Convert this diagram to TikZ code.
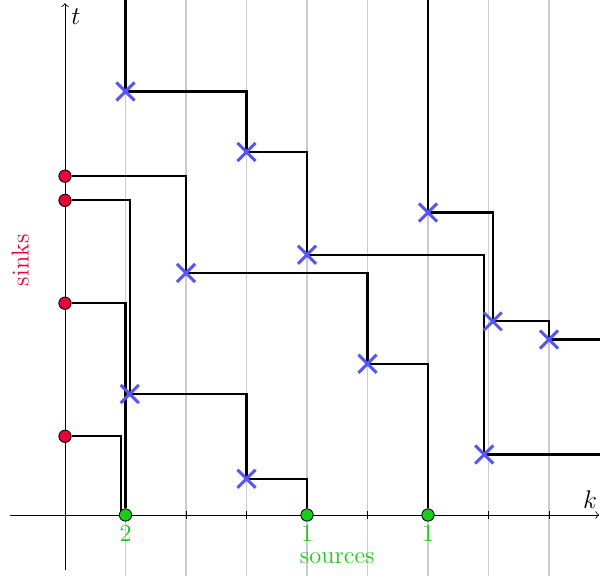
\documentclass[tikz,border=0pt]{standalone}
\usepackage{xcolor}
\usepackage{tikz}
\usetikzlibrary{shapes.misc}
\definecolor{sinkred}{RGB}{235,0,55}
\definecolor{srcgreen}{RGB}{25,205,25}
\definecolor{crossblue}{RGB}{85,85,250}

\begin{document}
\begin{tikzpicture}[
  font=\fontsize{11.5pt}{13pt}\selectfont,
  gridline/.style={draw=gray!40, line width=0.6pt},
  lpath/.style={draw=black, line width=1pt},
  sinkdot/.style={circle, draw=black, line width=0.4pt, fill=sinkred, inner sep=0pt, minimum size=5.8pt},
  srcdot/.style={circle, draw=black, line width=0.4pt, fill=srcgreen, inner sep=0pt, minimum size=5.8pt,
    label={[text=srcgreen, inner sep=1.5pt]below:#1}},
  crossmark/.style={cross out, draw=crossblue, line width=1.4pt, inner sep=0pt, minimum size=0.25cm}
]
  \clip (-1.0744,-1.008) rectangle (8.843,8.512);
  \def\dd{0.07}

  % Grid and axes
  \foreach \k in {1,...,8} {
    \draw[gridline] (\k,-1.1) -- (\k,8.6);
    \draw[line width=0.4pt] (\k,-0.06) -- (\k,0.06);
  }
  \draw[->, line width=0.4pt] (-0.91,0) -- (8.83,0);
  \draw[->, line width=0.4pt] (0,-0.91) -- (0,8.46);
  \node (tlab) at (0.18,8.23) {$t$};
  \node (klab) at (8.68,0.25) {$k$};

  % Sinks on the t axis
  \node[sinkdot] (snk1) at (0,5.6) {};
  \node[sinkdot] (snk2) at (0,5.2) {};
  \node[sinkdot] (snk3) at (0,3.5) {};
  \node[sinkdot] (snk4) at (0,1.3) {};
  \node[text=sinkred, rotate=90] (sinks) at (-0.74,4.21) {sinks};

  % Sources on the k axis
  \node[srcdot=2] (src1) at (1,0) {};
  \node[srcdot=1] (src2) at (4,0) {};
  \node[srcdot=1] (src3) at (6,0) {};
  \node[text=srcgreen, inner sep=1pt] (sources) at (4.5,-0.72) {sources};

  % Corner points of the paths
  \coordinate (a0) at (1,8.7);
  \coordinate (ca1) at (1,7);
  \coordinate (ca2) at (3,6);
  \coordinate (ca3) at (4,4.3);
  \coordinate (ca4) at (7-\dd,1);
  \coordinate (a5) at (9,1);
  \coordinate (b0) at (6,8.7);
  \coordinate (cb1) at (6,5);
  \coordinate (cb2) at (7+\dd,3.2);
  \coordinate (cb3) at (8,2.9);
  \coordinate (b4) at (9,2.9);
  \coordinate (cc1) at (2,4);
  \coordinate (cc2) at (5,2.5);
  \coordinate (cd1) at (1+\dd,2);
  \coordinate (cd2) at (3,0.6);
  \coordinate (f1) at (1-\dd,0.06);

  % Paths
  \draw[lpath] (a0) -- (ca1) -| (ca2) -| (ca3) -| (ca4) -- (a5);
  \draw[lpath] (b0) -- (cb1) -| (cb2) -| (cb3) -- (b4);
  \draw[lpath] (snk1) -| (cc1) -| (cc2) -| (src3);
  \draw[lpath] (snk2) -| (cd1) -| (cd2) -| (src2);
  \draw[lpath] (snk3) -| (src1);
  \draw[lpath] (snk4) -| (f1);

  % Crossings
  \foreach \c in {ca1,ca2,ca3,ca4,cb1,cb2,cb3,cc1,cc2,cd1,cd2}
    \node[crossmark] at (\c) {};

\end{tikzpicture}
\end{document}
